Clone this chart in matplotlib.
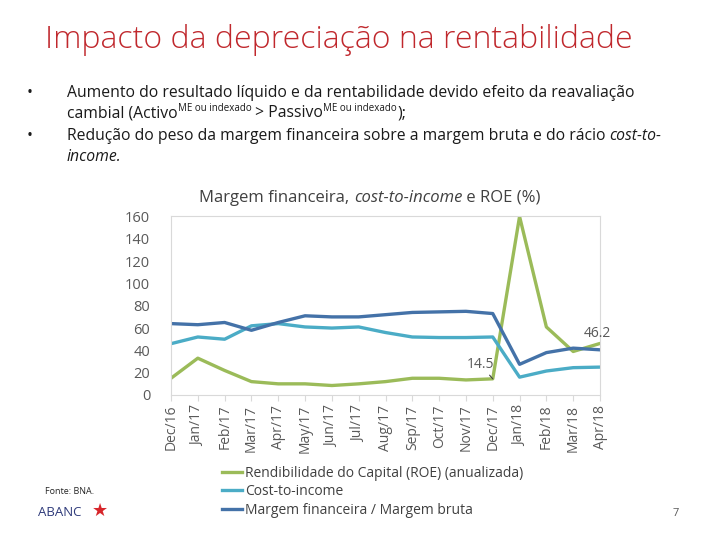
import matplotlib
matplotlib.use("Agg")
import matplotlib.pyplot as plt
from matplotlib.lines import Line2D

months = ["Dec/16", "Jan/17", "Feb/17", "Mar/17", "Apr/17", "May/17", "Jun/17",
          "Jul/17", "Aug/17", "Sep/17", "Oct/17", "Nov/17", "Dec/17", "Jan/18",
          "Feb/18", "Mar/18", "Apr/18"]
roe = [15, 33, 22, 12, 10, 10, 8.5, 10, 12, 15, 15, 13.5, 14.5, 160, 61, 39, 46.2]
cost_to_income = [46, 52, 50, 62, 64, 61, 60, 61, 56, 52, 51.5, 51.5, 52, 16, 21.5, 24.5, 25]
margem = [64, 63, 65, 58, 65, 71, 70, 70, 72, 74, 74.5, 75, 73, 27.5, 38, 42, 40.5]
yticks = [0, 20, 40, 60, 80, 100, 120, 140, 160]

labels = ["Rendibilidade do Capital (ROE) (anualizada)", "Cost-to-income",
          "Margem financeira / Margem bruta"]
colors = ["#9BBB59", "#4BACC6", "#4472A8"]

FONT = ["Open Sans", "DejaVu Sans"]
plt.rcParams['font.family'] = FONT

fig = plt.figure(figsize=(7.2, 5.4), dpi=100)
fig.patch.set_facecolor("white")
renderer = fig.canvas.get_renderer()


def rich(x_px, y_px, parts, fontsize, color, ha="left"):
    """parts: list of (text, style, size_factor, dy_px)"""
    texts = []
    for txt, style, sf, dy in parts:
        t = fig.text(0, 0, txt, fontsize=fontsize * sf, color=color, style=style,
                     va="baseline" if dy else "center", ha="left")
        texts.append((t, dy))
    widths = [t.get_window_extent(renderer).width for t, _ in texts]
    total = sum(widths)
    cur = x_px - (total / 2 if ha == "center" else 0)
    for (t, dy), w in zip(texts, widths):
        if dy:
            t.set_position((cur / 720, 1 - (y_px + 5 - dy) / 540))
        else:
            t.set_position((cur / 720, 1 - y_px / 540))
        cur += w


# Slide title
fig.text(45 / 720, 1 - 40 / 540, "Impacto da depreciação na rentabilidade",
         fontsize=23, color="#C0282D", va="center", ha="left", fontweight="light")

# Bullets
bfs = 11.3
tc = "#1a1a1a"
fig.text(27 / 720, 1 - 93 / 540, "•", fontsize=bfs, color=tc, va="center")
fig.text(67 / 720, 1 - 93 / 540,
         "Aumento do resultado líquido e da rentabilidade devido efeito da reavaliação",
         fontsize=bfs, color=tc, va="center")
rich(67, 113, [("cambial (Activo", "normal", 1, 0), ("ME ou indexado", "normal", 0.62, 7),
               (" > Passivo", "normal", 1, 0), ("ME ou indexado", "normal", 0.62, 7),
               (");", "normal", 1, 0)], bfs, tc)
fig.text(27 / 720, 1 - 136 / 540, "•", fontsize=bfs, color=tc, va="center")
rich(67, 136, [("Redução do peso da margem financeira sobre a margem bruta e do rácio ", "normal", 1, 0),
               ("cost-to-", "italic", 1, 0)], bfs, tc)
fig.text(67 / 720, 1 - 157 / 540, "income.", fontsize=bfs, color=tc, va="center",
         style="italic")

# Chart title
rich(370, 198, [("Margem financeira, ", "normal", 1, 0), ("cost-to-income", "italic", 1, 0),
                (" e ROE (%)", "normal", 1, 0)], 12, "#404040", ha="center")

ax = fig.add_axes([171 / 720, 1 - 395 / 540, (600 - 171) / 720, (395 - 216.5) / 540])
x = list(range(len(months)))
for vals, c in zip([roe, cost_to_income, margem], colors):
    ax.plot(x, vals, color=c, lw=2.4, solid_joinstyle="round", solid_capstyle="round")

ax.set_xlim(0, len(months) - 1)
ax.set_ylim(0, 160)
ax.set_yticks(yticks)
ax.set_xticks(x)
ax.set_xticklabels(months, rotation=90, fontsize=10, color="#595959")
ax.set_yticklabels([str(v) for v in yticks], fontsize=10.5, color="#595959")
for s in ax.spines.values():
    s.set_color("#D9D9D9")
    s.set_linewidth(0.8)
ax.tick_params(axis="y", length=0, pad=15)
ax.tick_params(axis="x", length=4, color="#D9D9D9", pad=3)

# Data labels
ax.annotate("14.5", xy=(12, roe[12]), xytext=(11.55, 27), fontsize=10, color="#595959",
            ha="center", va="center",
            arrowprops=dict(arrowstyle="-", color="#404040", lw=0.8, shrinkA=6, shrinkB=0))
ax.text(15.9, 55.5, "46.2", fontsize=10, color="#595959", ha="center", va="center")

# Legend
handles = [Line2D([0], [0], color=c, lw=2.4) for c in colors]
fig.legend(handles, labels, loc="upper left", bbox_to_anchor=(216 / 720, 1 - 460 / 540),
           frameon=False, fontsize=10, labelcolor="#404040", handlelength=1.5,
           handletextpad=0.2, labelspacing=0.25, borderaxespad=0)

# Footer
fig.text(45 / 720, 1 - 492 / 540, "Fonte: BNA.", fontsize=6.5, color="#262626", va="center")
fig.text(38 / 720, 1 - 513 / 540, "ABANC", fontsize=9.5, color="#2E3A7A", va="center")
fig.text(92 / 720, 1 - 511 / 540, "★", fontsize=13, color="#D7262B", va="center",
         family=["DejaVu Sans"])
fig.text(673 / 720, 1 - 514 / 540, "7", fontsize=8, color="#595959", va="center")

fig.savefig("out.png", dpi=100)
